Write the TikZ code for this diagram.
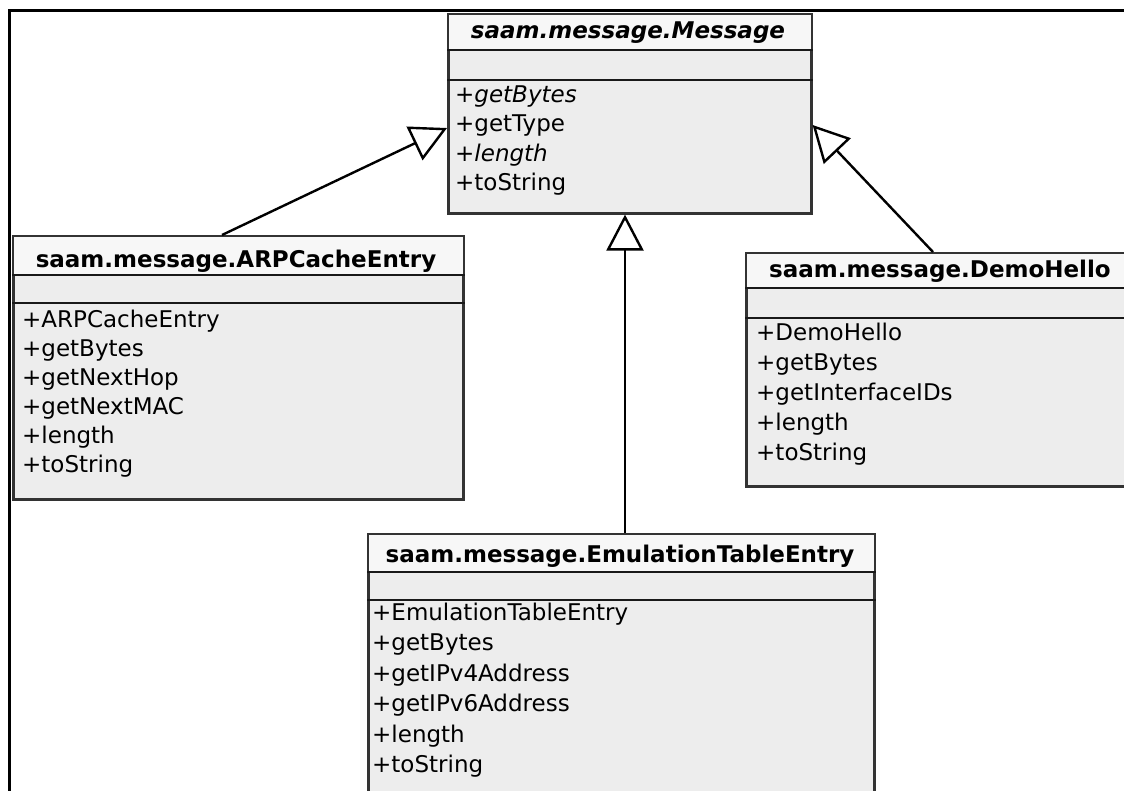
\documentclass[tikz,border=0pt]{standalone}
\usepackage{fontspec}
\setmainfont{DejaVu Sans}
\usetikzlibrary{arrows.meta,calc}
\begin{document}
\begin{tikzpicture}[x=1pt,y=-1pt,
  box/.style={draw=black!80, line width=2.6pt, fill=black!7, rectangle, anchor=north west, inner sep=0pt},
  hdr/.style={fill=black!3},
  sep/.style={draw=black!90, line width=2.6pt},
  title/.style={font=\fontsize{23}{28}\selectfont\bfseries, anchor=base, inner sep=0pt},
  ititle/.style={font=\fontsize{23}{28}\selectfont\bfseries\itshape, anchor=base, inner sep=0pt},
  meth/.style={font=\fontsize{23}{28}\selectfont, anchor=base west, inner sep=0pt},
  imeth/.style={font=\fontsize{23}{28}\selectfont\itshape, anchor=base west, inner sep=0pt},
  inherit/.style={line width=2.4pt, -{Triangle[open, length=36pt, width=37pt]}}
]
\useasboundingbox (0,0) rectangle (1124,790);
\clip (0,0) rectangle (1124,790);
\fill[white] (0,0) rectangle (1124,790);

% outer frame
\draw[line width=3pt] (9,800) -- (9,10) -- (1130,10);

% ---------- Message ----------
\node[box, minimum width=363pt, minimum height=199pt] (msg) at (447,13) {};
\fill[hdr] ($(msg.north west)+(1.5,1.5)$) rectangle ($(msg.north east |- 0,50)+(-1.5,0)$);
\draw[sep] (msg.west |- 0,50) -- (msg.east |- 0,50);
\draw[sep] (msg.west |- 0,80) -- (msg.east |- 0,80);
\node[ititle] (msgT) at (628,38) {saam.message.Message};
\node[imeth] (m1) at (455,102) {+getBytes};
\node[meth]  (m2) at (455,131.5) {+getType};
\node[imeth] (m3) at (455,161) {+length};
\node[meth]  (m4) at (455,190.5) {+toString};

% ---------- ARPCacheEntry ----------
\node[box, minimum width=450pt, minimum height=263pt] (arp) at (12,235) {};
\fill[hdr] ($(arp.north west)+(1.5,1.5)$) rectangle ($(arp.north east |- 0,275)+(-1.5,0)$);
\draw[sep] (arp.west |- 0,275) -- (arp.east |- 0,275);
\draw[sep] (arp.west |- 0,303) -- (arp.east |- 0,303);
\node[title] (arpT) at (236,267) {saam.message.ARPCacheEntry};
\node[meth] (a1) at (22,327) {+ARPCacheEntry};
\node[meth] (a2) at (22,356) {+getBytes};
\node[meth] (a3) at (22,385) {+getNextHop};
\node[meth] (a4) at (22,414) {+getNextMAC};
\node[meth] (a5) at (22,443) {+length};
\node[meth] (a6) at (22,472) {+toString};

% ---------- DemoHello ----------
\node[box, minimum width=390pt, minimum height=233pt] (demo) at (745,252) {};
\fill[hdr] ($(demo.north west)+(1.5,1.5)$) rectangle ($(demo.north east |- 0,288)+(-1.5,0)$);
\draw[sep] (demo.west |- 0,288) -- (demo.east |- 0,288);
\draw[sep] (demo.west |- 0,318) -- (demo.east |- 0,318);
\node[title] (demoT) at (940,277) {saam.message.DemoHello};
\node[meth] (d1) at (756,340) {+DemoHello};
\node[meth] (d2) at (756,370) {+getBytes};
\node[meth] (d3) at (756,400) {+getInterfaceIDs};
\node[meth] (d4) at (756,430) {+length};
\node[meth] (d5) at (756,460) {+toString};

% ---------- EmulationTableEntry ----------
\node[box, minimum width=506pt, minimum height=290pt] (emul) at (367,533) {};
\fill[hdr] ($(emul.north west)+(1.5,1.5)$) rectangle ($(emul.north east |- 0,572)+(-1.5,0)$);
\draw[sep] (emul.west |- 0,572) -- (emul.east |- 0,572);
\draw[sep] (emul.west |- 0,600) -- (emul.east |- 0,600);
\node[title] (emulT) at (620,562) {saam.message.EmulationTableEntry};
\node[meth] (e1) at (372,620) {+EmulationTableEntry};
\node[meth] (e2) at (372,650) {+getBytes};
\node[meth] (e3) at (372,681) {+getIPv4Address};
\node[meth] (e4) at (372,711) {+getIPv6Address};
\node[meth] (e5) at (372,742) {+length};
\node[meth] (e6) at (372,772) {+toString};

% ---------- inheritance connectors ----------
\coordinate (arpC) at ($(arp.north west)+(210,0)$);
\coordinate (msgL) at ($(msg.north west)+(0,115)$);
\coordinate (demoC) at ($(demo.north west)+(188,0)$);
\coordinate (msgR) at ($(msg.north east)+(0,112)$);
\coordinate (emulC) at ($(emul.north west)+(258,0)$);
\coordinate (msgB) at ($(msg.south west)+(178,0)$);
\draw[inherit] (arpC) -- (msgL);
\draw[inherit] (demoC) -- (msgR);
\draw[inherit] (emulC) -- (msgB);
\end{tikzpicture}
\end{document}
